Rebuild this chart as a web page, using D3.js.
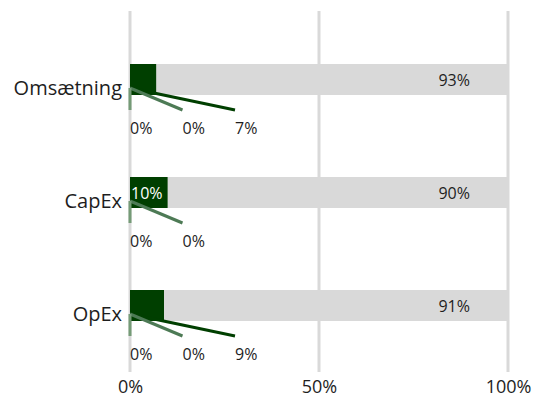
<!DOCTYPE html>
<html>
<head>
<meta charset="utf-8">
<script src="https://cdn.jsdelivr.net/npm/d3@7"></script>
<style>
  body { margin: 0; background: #fff; }
  text { font-family: "Open Sans", Roboto, sans-serif; fill: #1e1e1e; }
</style>
</head>
<body>
<div id="chart"></div>
<script>
const categories = ["Omsætning", "CapEx", "OpEx"];
const seriesA = [0, 0, 0];
const seriesB = [0, 0, 0];
const seriesC = [7, 10, 9];
const seriesD = [93, 90, 91];
const xTicks = [0, 50, 100];

const colors = ["#759b77", "#4d7a55", "#003f00", "#d9d9d9"];

const width = 538, height = 405;
const margin = ({top: 11, right: 30, bottom: 33, left: 130});

const svg = d3.select("#chart").append("svg")
    .attr("width", width)
    .attr("height", height);

const xScale = d3.scaleLinear()
    .domain([0, 100])
    .range([margin.left, width - margin.right]);

const yScale = d3.scalePoint()
    .domain(categories)
    .range([79.5, 305.5]);

const barH = 31;

// grid
svg.append("g").selectAll("line")
    .data(xTicks)
    .join("line")
    .attr("x1", d => xScale(d))
    .attr("x2", d => xScale(d))
    .attr("y1", margin.top)
    .attr("y2", height - margin.bottom)
    .attr("stroke", "#d9d9d9")
    .attr("stroke-width", 3);

const rows = categories.map((c, i) => ({
    cat: c,
    vals: [seriesA[i], seriesB[i], seriesC[i], seriesD[i]]
}));

const stack = d3.stack().keys([0, 1, 2, 3]).value((d, k) => d.vals[k]);
const stacked = stack(rows);

// bars
svg.append("g").selectAll("g")
    .data(stacked)
    .join("g")
    .attr("fill", (d, i) => colors[i])
    .selectAll("rect")
    .data(d => d)
    .join("rect")
    .attr("x", d => xScale(d[0]))
    .attr("y", d => yScale(d.data.cat) - barH / 2)
    .attr("width", d => xScale(d[1]) - xScale(d[0]))
    .attr("height", barH);

// labels
const labelG = svg.append("g");
rows.forEach((r, i) => {
    const cy = yScale(r.cat);
    let outside = [];
    stacked.forEach((s, k) => {
        const d = s[i];
        const w = xScale(d[1]) - xScale(d[0]);
        if (k === 3) {
            labelG.append("text")
                .attr("x", xScale(100) - 38)
                .attr("y", cy + 6)
                .attr("text-anchor", "end")
                .attr("font-size", 16)
                .text(r.vals[k] + "%");
        } else if (w > 36) {
            labelG.append("text")
                .attr("x", xScale(d[0]) + 1)
                .attr("y", cy + 6)
                .attr("font-size", 16)
                .style("fill", "#fff")
                .text(r.vals[k] + "%");
        } else {
            outside.push(k);
        }
    });
    // connectors drawn back to front so the lightest sits on top
    outside.forEach((k, j) => {
        const d = stacked[k][i];
        const ex = xScale(d[0]) + j * 52.5;
        labelG.append("line")
            .attr("x1", xScale(d[0]))
            .attr("y1", cy + 8.5)
            .attr("x2", ex)
            .attr("y2", cy + 30.5)
            .attr("stroke", colors[k])
            .attr("stroke-width", 3)
            .lower();
        labelG.append("text")
            .attr("x", ex)
            .attr("y", cy + 54)
            .attr("font-size", 16)
            .text(r.vals[k] + "%");
    });
});

// y labels
svg.append("g").selectAll("text")
    .data(categories)
    .join("text")
    .attr("x", 122)
    .attr("y", d => yScale(d) + 15)
    .attr("text-anchor", "end")
    .attr("font-size", 20)
    .text(d => d);

// x axis
const xAxis = d3.axisBottom(xScale)
    .tickValues(xTicks)
    .tickSize(0)
    .tickPadding(0)
    .tickFormat(d => d + "%");

svg.append("g")
    .attr("transform", `translate(0, ${height - 25})`)
    .call(xAxis)
    .call(g => g.select(".domain").remove())
    .selectAll("text")
    .attr("font-size", 18)
    .attr("font-family", "'Open Sans', sans-serif")
    .attr("fill", "#1e1e1e");
</script>
</body>
</html>
